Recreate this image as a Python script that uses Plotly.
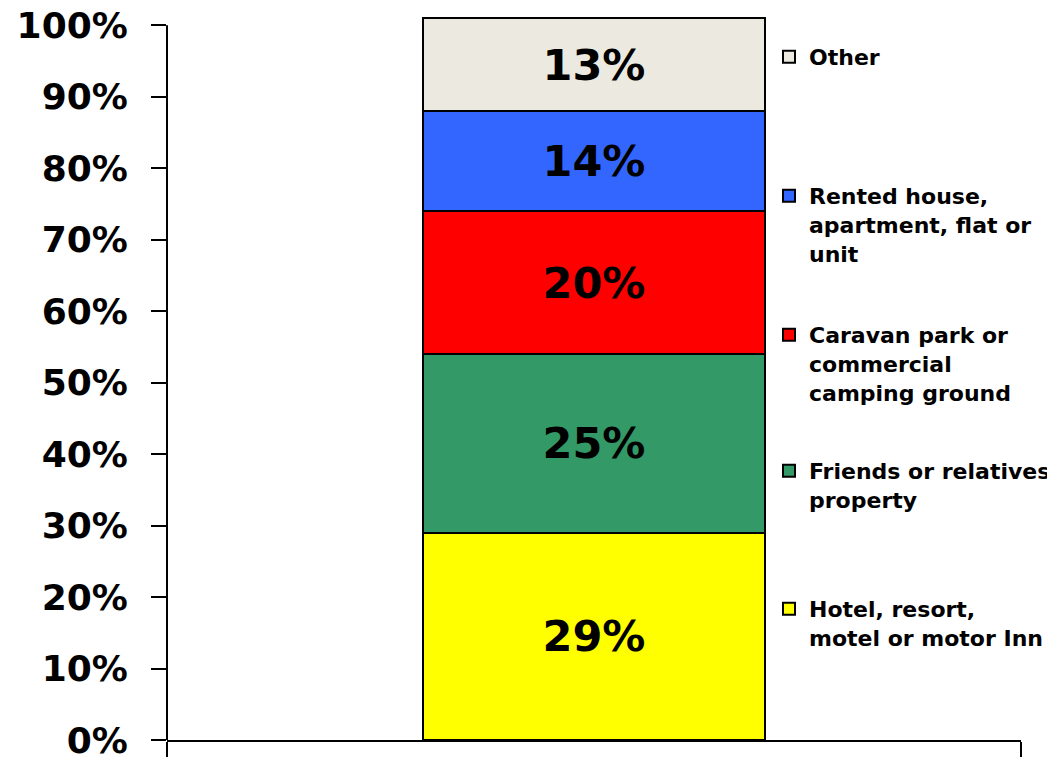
import plotly.graph_objects as go

group = ["All visitors"]
series_names = [
    "Hotel, resort,<br>motel or motor Inn",
    "Friends or relatives<br>property",
    "Caravan park or<br>commercial<br>camping ground",
    "Rented house,<br>apartment, flat or<br>unit",
    "Other",
]
series_values = [29, 25, 20, 14, 13]
series_colors = ["#FFFF00", "#339966", "#FF0000", "#3366FF", "#ECEAE0"]
y_ticks = list(range(0, 101, 10))
y_tick_text = [f"{v}%" for v in y_ticks]

# The page body adds an 8px offset; the figure is sized so it ends at the window edge.
OFF = 8
# legend first-line centre positions in window pixels (layout only)
legend_px = [609, 471, 335, 196, 57]

W, H = 1055 - OFF, 757 - OFF
L, R, T, B = 167 - OFF, 34, 16 - OFF, 17
Y_MAX = 101.3
plot_h = H - T - B
plot_w = W - L - R

FONT = "DejaVu Sans"

fig = go.Figure()
legend_layouts = {}
for i, (name, val, col) in enumerate(zip(series_names, series_values, series_colors)):
    lid = "legend" if i == 0 else f"legend{i + 1}"
    fig.add_trace(go.Bar(
        x=group, y=[val], name=name,
        marker=dict(color=col, line=dict(color="black", width=2)),
        width=0.4,
        text=[f"{val}%"], textposition="inside", insidetextanchor="middle",
        textangle=0,
        textfont=dict(family=FONT, size=43, color="black", weight="bold"),
        cliponaxis=False,
        legend=lid,
        hoverinfo="skip",
    ))
    top_px = legend_px[i] - OFF - 21
    legend_layouts[lid] = dict(
        x=(789 - OFF - 20 - L) / plot_w, xanchor="left",
        y=(H - B - top_px) / plot_h, yanchor="top",
        valign="top",
        bgcolor="rgba(0,0,0,0)",
        font=dict(family=FONT, size=22, color="black", weight="bold"),
    )

fig.update_layout(
    width=W, height=H,
    margin=dict(l=L, r=R, t=T, b=B, pad=0, autoexpand=False),
    barmode="stack",
    plot_bgcolor="white", paper_bgcolor="white",
    showlegend=True,
    **legend_layouts,
)
# y axis line drawn only up to the 100% tick
fig.add_shape(type="line", xref="paper", yref="y", x0=0, x1=0, y0=0, y1=100,
              line=dict(color="black", width=2))
fig.update_yaxes(
    range=[0, Y_MAX], tickvals=y_ticks, ticktext=y_tick_text,
    showline=False,
    ticks="outside", ticklen=15, tickwidth=2, tickcolor="black",
    showgrid=False, zeroline=False,
    tickfont=dict(family=FONT, size=36, color="black", weight="bold"),
    ticklabelstandoff=16,
    ticklabeloverflow="allow",
)
fig.update_xaxes(
    type="category", range=[-0.5, 0.5],
    showline=True, linecolor="black", linewidth=2,
    ticks="outside", ticklen=17, tickwidth=2, tickcolor="black",
    tickson="boundaries", showticklabels=False, showgrid=False,
)

fig.write_html("out.html")
